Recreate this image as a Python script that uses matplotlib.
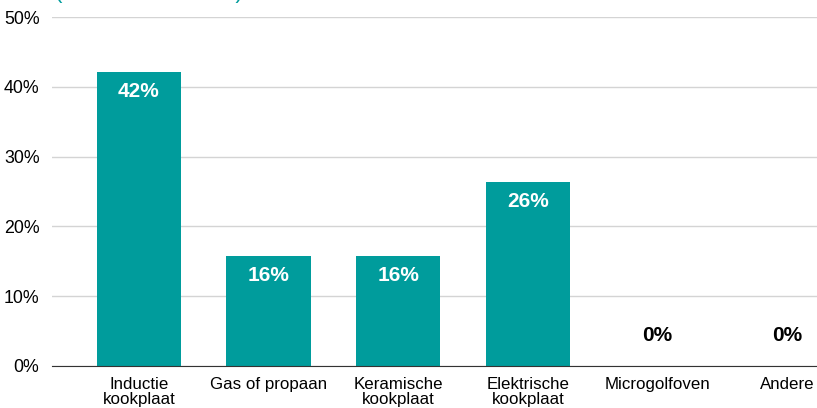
import matplotlib.pyplot as plt
from matplotlib.ticker import PercentFormatter

plt.rcParams['font.family'] = ['Liberation Sans', 'DejaVu Sans']

categories = ["Inductie\nkookplaat", "Gas of propaan", "Keramische\nkookplaat",
              "Elektrische\nkookplaat", "Microgolfoven", "Andere"]
values = [42.1, 15.7, 15.7, 26.3, 0, 0]
labels = ["42%", "16%", "16%", "26%", "0%", "0%"]

teal = "#009c9c"

fig = plt.figure(figsize=(8.17, 4.08), dpi=100)
ax = fig.add_axes([52 / 817, 42 / 408, 765 / 817, 349 / 408])

x = range(len(categories))
bars = ax.bar(x, values, width=0.65, color=teal, zorder=3)

for b, v, lab in zip(bars, values, labels):
    cx = b.get_x() + b.get_width() / 2
    if v > 3:
        ax.annotate(lab, (cx, v), xytext=(0, -14), textcoords="offset points",
                    ha="center", va="center", color="white", fontsize=15,
                    fontweight="bold", zorder=4)
    else:
        ax.annotate(lab, (cx, v), xytext=(0, 22), textcoords="offset points",
                    ha="center", va="center", color="black", fontsize=15,
                    fontweight="bold", zorder=4)

ax.set_xlim(-0.67, 5.23)
ax.set_ylim(0, 50)
ax.set_yticks([0, 10, 20, 30, 40, 50])
ax.yaxis.set_major_formatter(PercentFormatter(decimals=0))
ax.set_xticks(list(x))
ax.set_xticklabels(categories, fontsize=12.2, linespacing=1.0)
ax.tick_params(axis="y", length=0, labelsize=12.8, pad=9)
ax.tick_params(axis="x", length=0, pad=8)
ax.grid(axis="y", color="#d4d4d4", linewidth=1, zorder=0)
for s in ["top", "right", "left"]:
    ax.spines[s].set_visible(False)
ax.spines["bottom"].set_color("#333333")
ax.spines["bottom"].set_zorder(5)

# subtitle cut off at top edge of the image, only the bottom of it shows
fig.text(55 / 817, 1.0 + 2 / 408, "(meer antwoorden)", color=teal,
         fontsize=16, va="baseline", ha="left")

fig.savefig("out.png", dpi=100)
